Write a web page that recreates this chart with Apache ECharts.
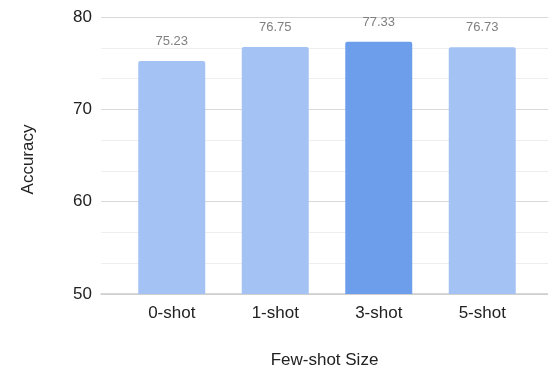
<!DOCTYPE html>
<html>
<head>
<meta charset="utf-8">
<script src="https://cdn.jsdelivr.net/npm/echarts@6/dist/echarts.min.js"></script>
<style>
  html, body { margin: 0; padding: 0; background: #fff; }
  #chart { width: 548px; height: 369px; }
</style>
</head>
<body>
<div id="chart"></div>
<script>
// Accuracy by number of in-context examples
const categories = ['0-shot', '1-shot', '3-shot', '5-shot'];
const accuracy = [75.23, 76.75, 77.33, 76.73];
const bestIndex = 2;
const yTicks = { min: 50, max: 80, interval: 10 };

const FONT = '"Liberation Sans", Arial, sans-serif';
const LIGHT = '#a4c2f4';
const DARK = '#6d9eeb';

const chart = echarts.init(document.getElementById('chart'), null, { renderer: 'canvas' });

const barData = accuracy.map((v, i) => ({
  value: v,
  itemStyle: { color: i === bestIndex ? DARK : LIGHT }
}));

chart.setOption({
  animation: false,
  textStyle: { fontFamily: FONT },
  grid: [
    // full-width frame carrying the value axis and gridlines
    { left: 101, right: 0, top: 17, bottom: 75, containLabel: false, outerBoundsMode: 'none' },
    // inner band where the category bars sit
    { left: 120, right: 14, top: 17, bottom: 75, containLabel: false, outerBoundsMode: 'none' }
  ],
  xAxis: [
    {
      gridIndex: 0, type: 'value', min: 0, max: 1,
      axisLine: { show: true, lineStyle: { color: '#cccccc', width: 1.5 } },
      axisTick: { show: false }, axisLabel: { show: false }, splitLine: { show: false },
      name: 'Few-shot Size', nameLocation: 'middle', nameGap: 58,
      nameTextStyle: { fontFamily: FONT, fontSize: 17, color: '#222222' }
    },
    {
      gridIndex: 1, type: 'category', data: categories,
      axisLine: { show: false }, axisTick: { show: false },
      axisLabel: { fontFamily: FONT, fontSize: 17, color: '#222222', margin: 11 }
    }
  ],
  yAxis: [
    {
      gridIndex: 0, type: 'value',
      min: yTicks.min, max: yTicks.max, interval: yTicks.interval,
      axisLine: { show: false }, axisTick: { show: false },
      axisLabel: { fontFamily: FONT, fontSize: 17, color: '#222222', margin: 9 },
      splitLine: { show: true, lineStyle: { color: '#d9d9d9', width: 1 } },
      minorTick: { show: false, splitNumber: 3 },
      minorSplitLine: { show: true, lineStyle: { color: '#eeeeee', width: 1 } },
      name: 'Accuracy', nameLocation: 'middle', nameGap: 64, nameRotate: 90,
      nameTextStyle: { fontFamily: FONT, fontSize: 17, color: '#222222', padding: [0, 8, 0, 0] }
    },
    {
      gridIndex: 1, type: 'value',
      min: yTicks.min, max: yTicks.max, interval: yTicks.interval,
      show: false
    }
  ],
  series: [{
    type: 'bar',
    xAxisIndex: 1, yAxisIndex: 1,
    data: barData,
    barWidth: 67,
    itemStyle: { borderRadius: [2, 2, 0, 0] },
    label: {
      show: true, position: 'top', distance: 13,
      fontFamily: FONT, fontSize: 13, color: '#808080',
      formatter: p => p.value.toFixed(2)
    }
  }]
});
</script>
</body>
</html>
